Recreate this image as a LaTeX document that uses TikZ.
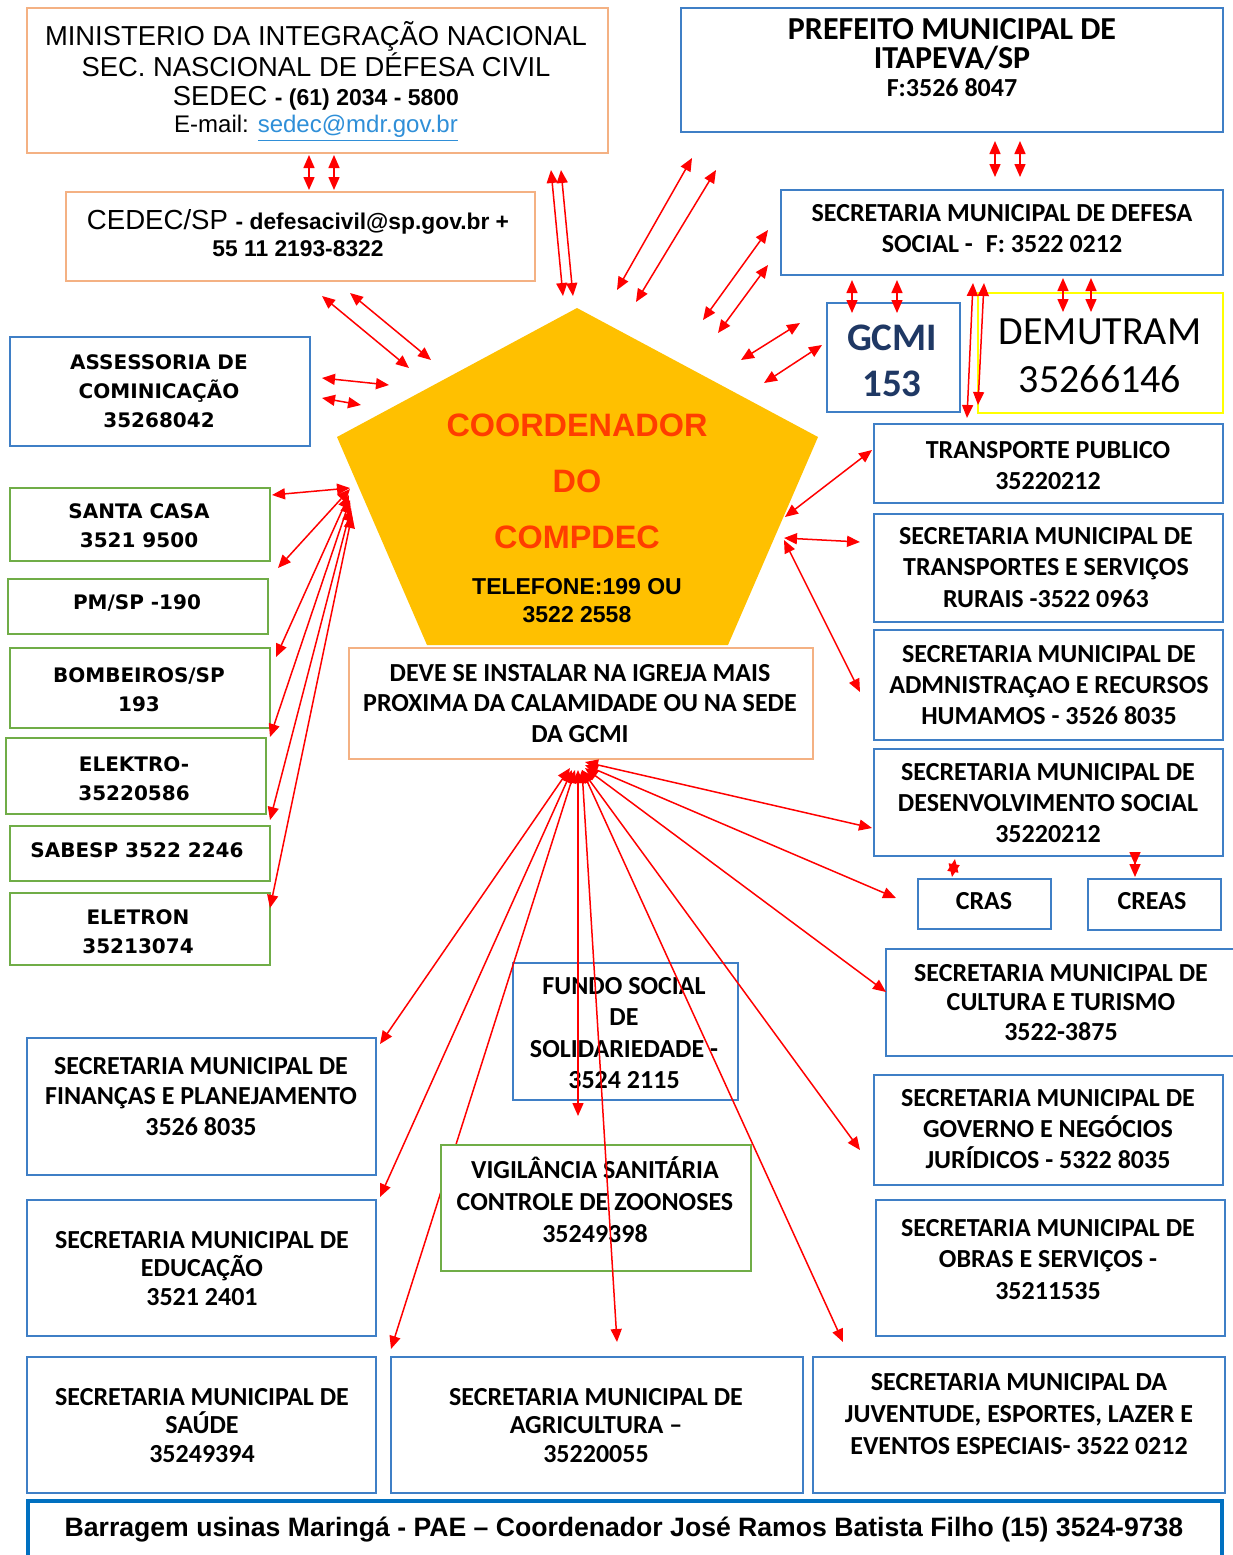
\documentclass[tikz,border=0pt]{standalone}
\usepackage{fontspec}
\setmainfont{Carlito}
\newfontfamily\calfont{Carlito}
\newfontfamily\arifont{Liberation Sans}
\newfontfamily\dejfont{DejaVu Sans}
\usetikzlibrary{arrows.meta}
\definecolor{bxblue}{HTML}{3F7FC6}
\definecolor{bxgreen}{HTML}{70AD47}
\definecolor{bxorange}{HTML}{F4B183}
\definecolor{bxyellow}{HTML}{FFFF00}
\definecolor{pentafill}{HTML}{FFC000}
\definecolor{coordred}{HTML}{FF3D00}
\definecolor{gcminavy}{HTML}{1F3864}
\definecolor{linkblue}{HTML}{2F8FD8}
\definecolor{banblue}{HTML}{0070C0}
\definecolor{arrred}{HTML}{FF0000}
\newcommand\mybox[6]{\node[#2, anchor=north west, minimum width=\fpeval{(#5-#3)/2}pt, minimum height=\fpeval{(#6-#4)/2}pt] (#1) at (#3,#4) {};}
\newcommand\myarr[5]{\coordinate (#1s) at (#2,#3); \coordinate (#1e) at (#4,#5); \draw[rarr] (#1s) -- (#1e);}
\begin{document}
\begin{tikzpicture}[x=0.5pt,y=-0.5pt,
  bx/.style={line width=1pt,fill=white,outer sep=0pt,inner sep=0pt},
  bb/.style={bx,draw=bxblue},
  bg/.style={bx,draw=bxgreen},
  bo/.style={bx,draw=bxorange},
  by/.style={bx,draw=bxyellow},
  cb/.style={font=\calfont\bfseries\fontsize{13}{#1}\selectfont,align=center,inner sep=0pt},
  cb/.default=15.5pt,
  dv/.style={font=\dejfont\bfseries\fontsize{10}{14.5}\selectfont,align=center,inner sep=0pt},
  ar/.style={font=\arifont\fontsize{13.7}{14}\selectfont,align=center,inner sep=0pt},
  rarr/.style={draw=arrred,line width=0.75pt,{Triangle[length=6.5pt,width=5.5pt]}-{Triangle[length=6.5pt,width=5.5pt]}}
]
\useasboundingbox (0,0) rectangle (1233,1555);
\fill[white] (0,0) rectangle (1233,1555);
% pentagon
\fill[pentafill] (577,308) -- (818,437) -- (728,645) -- (427,645) -- (337,437) -- cycle;
% boxes
\mybox{bmin}{bo}{27}{8}{608}{153}
\mybox{bced}{bo}{66}{192}{535}{281}
\mybox{bpre}{bb}{681}{8}{1223}{132}
\mybox{bdef}{bb}{781}{190}{1223}{275}
\mybox{bgcm}{bb}{827}{303}{960}{412}
\mybox{bdem}{by}{978}{293}{1223}{413}
\mybox{bass}{bb}{10}{337}{310}{446}
\mybox{bdev}{bo}{349}{648}{813}{759}
\mybox{bsc}{bg}{10}{488}{270}{561}
\mybox{bpm}{bg}{8}{579}{268}{634}
\mybox{bbom}{bg}{10}{648}{270}{728}
\mybox{bele}{bg}{6}{738}{266}{814}
\mybox{bsab}{bg}{10}{826}{270}{881}
\mybox{belt}{bg}{10}{893}{270}{965}
\mybox{btp}{bb}{874}{424}{1223}{503}
\mybox{bstr}{bb}{874}{514}{1223}{622}
\mybox{badm}{bb}{874}{630}{1223}{740}
\mybox{bdes}{bb}{874}{749}{1223}{856}
\mybox{bcras}{bb}{918}{879}{1051}{929}
\mybox{bcreas}{bb}{1088}{879}{1221}{930}
\mybox{bcul}{bb}{886}{949}{1240}{1056}
\mybox{bgov}{bb}{874}{1075}{1223}{1185}
\mybox{bobr}{bb}{876}{1200}{1225}{1336}
\mybox{bjuv}{bb}{813}{1357}{1225}{1493}
\mybox{bfun}{bb}{513}{963}{738}{1100}
\mybox{bagr}{bb}{391}{1357}{803}{1493}
\mybox{bfin}{bb}{27}{1038}{376}{1175}
\mybox{bedu}{bb}{27}{1200}{376}{1336}
\mybox{bsau}{bb}{27}{1357}{376}{1493}
\node[draw=banblue,line width=2pt,fill=white,anchor=north west,outer sep=0pt,minimum width=597pt,minimum height=40pt] (bban) at (28,1501) {};
% arrow to SAUDE passes behind VIGILANCIA
\myarr{e8}{575}{770}{391}{1349}
\mybox{bvig}{bg}{441}{1145}{751}{1271}
% texts
\node[ar] (m1) at (316,36) {MINISTERIO DA INTEGRAÇÃO NACIONAL};
\node[ar] (m2) at (316,65) {SEC. NASCIONAL DE DÉFESA CIVIL};
\node[ar] (m3) at (316,98) {SEDEC\ {\bfseries\fontsize{11.5}{14}\selectfont - (61) 2034 - 5800}};
\node[ar,font=\arifont\fontsize{12}{14}\selectfont] (m4) at (316,128) {E-mail: \textcolor{linkblue}{\underline{sedec@mdr.gov.br}}};
\node[ar,font=\arifont\fontsize{13.8}{14}\selectfont] (cd1) at (298,222) {CEDEC/SP\ {\bfseries\fontsize{11.4}{14}\selectfont - defesacivil@sp.gov.br +}};
\node[ar,font=\arifont\bfseries\fontsize{11.4}{14}\selectfont] (cd2) at (298,249) {55 11 2193-8322};
\node[cb=14pt,font=\calfont\bfseries\fontsize{16}{14.5}\selectfont] (tp1) at (952,44) {PREFEITO MUNICIPAL DE\\ITAPEVA/SP};
\node[cb] (tp2) at (952,88) {F:3526 8047};
\node[cb] (tdef) at (1002,228.5) {SECRETARIA MUNICIPAL DE DEFESA\\SOCIAL -\enspace F: 3522 0212};
\node[cb,font=\calfont\bfseries\fontsize{19.5}{23}\selectfont,text=gcminavy] (tgcm) at (892,361) {GCMI\\153};
\node[cb,font=\calfont\fontsize{20}{24}\selectfont] (tdem) at (1100,356) {DEMUTRAM\\35266146};
\node[dv] (tass) at (159,391) {ASSESSORIA DE\\COMINICAÇÃO\\35268042};
\node[dv] (tsc) at (139,525.5) {SANTA CASA\\3521 9500};
\node[dv] (tpm) at (137,603) {PM/SP -190};
\node[dv] (tbom) at (139,689.5) {BOMBEIROS/SP\\193};
\node[dv] (tele) at (134,779) {ELEKTRO-\\35220586};
\node[dv] (tsab) at (137,850) {SABESP 3522 2246};
\node[dv] (telt) at (138,932) {ELETRON\\35213074};
\node[ar,font=\arifont\bfseries\fontsize{16.2}{14}\selectfont,text=coordred] (pc1) at (577,425) {COORDENADOR};
\node[ar,font=\arifont\bfseries\fontsize{16.2}{14}\selectfont,text=coordred] (pc2) at (577,481) {DO};
\node[ar,font=\arifont\bfseries\fontsize{16.2}{14}\selectfont,text=coordred] (pc3) at (577,537) {COMPDEC};
\node[ar,font=\arifont\bfseries\fontsize{11.5}{14}\selectfont] (pc4) at (577,601) {TELEFONE:199 OU\\3522 2558};
\node[cb=15.25pt] (tdev) at (580,703.5) {DEVE SE INSTALAR NA IGREJA MAIS\\PROXIMA DA CALAMIDADE OU NA SEDE\\DA GCMI};
\node[cb] (ttp) at (1048,465.5) {TRANSPORTE PUBLICO\\35220212};
\node[cb=15.75pt] (tstr) at (1046,567.5) {SECRETARIA MUNICIPAL DE\\TRANSPORTES E SERVIÇOS\\RURAIS -3522 0963};
\node[cb] (tadm) at (1049,685) {SECRETARIA MUNICIPAL DE\\ADMNISTRAÇAO E RECURSOS\\HUMAMOS - 3526 8035};
\node[cb] (tdes) at (1048,803) {SECRETARIA MUNICIPAL DE\\DESENVOLVIMENTO SOCIAL\\35220212};
\node[cb] (tcras) at (984,901) {CRAS};
\node[cb] (tcreas) at (1152,901) {CREAS};
\node[cb=14.75pt] (tcul) at (1061,1002.5) {SECRETARIA MUNICIPAL DE\\CULTURA E TURISMO\\3522-3875};
\node[cb] (tgov) at (1048,1129.5) {SECRETARIA MUNICIPAL DE\\GOVERNO E NEGÓCIOS\\JURÍDICOS - 5322 8035};
\node[cb=15.75pt] (tobr) at (1048,1259.5) {SECRETARIA MUNICIPAL DE\\OBRAS E SERVIÇOS -\\35211535};
\node[cb=16pt] (tjuv) at (1019,1414) {SECRETARIA MUNICIPAL DA\\JUVENTUDE, ESPORTES, LAZER E\\EVENTOS ESPECIAIS- 3522 0212};
\node[cb=14.25pt] (tagr) at (596,1425.5) {SECRETARIA MUNICIPAL DE\\AGRICULTURA –\\35220055};
\node[cb=14.25pt] (tsau) at (202,1425.5) {SECRETARIA MUNICIPAL DE\\SAÚDE\\35249394};
\node[cb=14.25pt] (tedu) at (202,1268.5) {SECRETARIA MUNICIPAL DE\\EDUCAÇÃO\\3521 2401};
\node[cb=15.25pt] (tfin) at (201,1096.5) {SECRETARIA MUNICIPAL DE\\FINANÇAS E PLANEJAMENTO\\3526 8035};
\node[cb=15.65pt] (tfun) at (624,1033) {FUNDO SOCIAL\\DE\\SOLIDARIEDADE -\\3524 2115};
\node[cb=16pt] (tvig) at (595,1200) {VIGILÂNCIA SANITÁRIA\\CONTROLE DE ZOONOSES\\35249398};
\node[ar,font=\arifont\bfseries\fontsize{13.3}{14}\selectfont] (tban) at (624,1530) {Barragem usinas Maringá - PAE – Coordenador José Ramos Batista Filho (15) 3524-9738};
% arrows top
\myarr{a1}{309}{155}{309}{190}
\myarr{a2}{334}{155}{334}{190}
\myarr{a3}{551}{170}{563}{296}
\myarr{a4}{561}{170}{573}{296}
\myarr{a5}{617}{290}{692}{158}
\myarr{a6}{636}{302}{716}{170}
\myarr{a7}{703}{320}{768}{230}
\myarr{a8}{718}{333}{768}{265}
\myarr{a9}{741}{360}{800}{323}
\myarr{a10}{764}{383}{822}{345}
\myarr{a11}{995}{141}{995}{177}
\myarr{a12}{1020}{141}{1020}{177}
\myarr{a13}{852}{280}{852}{313}
\myarr{a14}{897}{280}{897}{313}
\myarr{a15}{973}{283}{967}{418}
\myarr{a16}{984}{283}{978}{405}
\myarr{a17}{1063}{278}{1063}{312}
\myarr{a18}{1091}{278}{1091}{312}
% arrows left
\myarr{b1}{322}{296}{409}{368}
\myarr{b2}{350}{293}{431}{360}
\myarr{b3}{322}{378}{389}{385}
\myarr{b4}{322}{398}{361}{405}
\myarr{c1}{350}{488}{272}{495}
\myarr{c2}{350}{489}{278}{568}
\myarr{c3}{349}{495}{276}{657}
\myarr{c4}{350}{500}{270}{737}
\myarr{c5}{351}{508}{270}{820}
\myarr{c6}{352}{515}{270}{908}
% arrows right
\myarr{d1}{785}{517}{872}{450}
\myarr{d2}{784}{538}{860}{542}
\myarr{d3}{784}{540}{860}{692}
% arrows bottom hub
\myarr{e1}{585}{762}{872}{828}
\myarr{e2}{585}{765}{896}{898}
\myarr{e3}{585}{768}{886}{992}
\myarr{e4}{582}{770}{860}{1150}
\myarr{e5}{582}{770}{843}{1342}
\myarr{e6}{582}{770}{617}{1342}
\myarr{e7}{578}{770}{578}{1116}
\myarr{e9}{572}{770}{380}{1197}
\myarr{e10}{570}{768}{380}{1044}
\myarr{f1}{955}{859}{952}{877}
\myarr{f2}{1135}{865}{1135}{877}
\end{tikzpicture}
\end{document}
